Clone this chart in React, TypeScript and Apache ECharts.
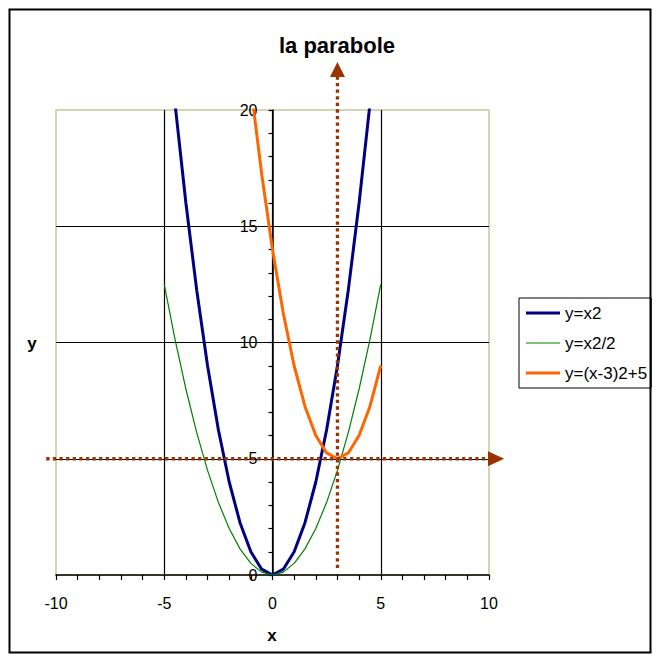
import React, { useEffect, useRef } from "react";
import * as echarts from "echarts";

// Sample points (step 0.5) for the three parabolas
const xValues = [-5, -4.5, -4, -3.5, -3, -2.5, -2, -1.5, -1, -0.5, 0, 0.5, 1, 1.5, 2, 2.5, 3, 3.5, 4, 4.5, 5];
const ySquare = [25, 20.25, 16, 12.25, 9, 6.25, 4, 2.25, 1, 0.25, 0, 0.25, 1, 2.25, 4, 6.25, 9, 12.25, 16, 20.25, 25];
const yHalf = [12.5, 10.125, 8, 6.125, 4.5, 3.125, 2, 1.125, 0.5, 0.125, 0, 0.125, 0.5, 1.125, 2, 3.125, 4.5, 6.125, 8, 10.125, 12.5];
const yShifted = [69, 61.25, 54, 47.25, 41, 35.25, 30, 25.25, 21, 17.25, 14, 11.25, 9, 7.25, 6, 5.25, 5, 5.25, 6, 7.25, 9];

const seriesNames = ["y=x2", "y=x2/2", "y=(x-3)2+5"];

// Vertex guides of the shifted parabola: vertical x = 3, horizontal y = 5
const vertex = [3, 5];
const verticalGuideSpan = [0.3, 21.42, 22.06]; // from, arrow base, arrow tip (y units)
const horizontalGuideSpan = [-10.45, 9.95, 10.7]; // from, arrow base, arrow tip (x units)

const FONT = 'Arial, "Liberation Sans", sans-serif';
const GUIDE_COLOR = "#993300";
const PLOT_BORDER = "#c8c89a";

const GRID_LEFT = 56;
const GRID_TOP = 110;
const GRID_WIDTH = 433;
const GRID_HEIGHT = 465;

const pairs = (ys: number[]) => xValues.map((x, i) => [x, ys[i]]);

// legend keys drawn as thin bars of the series' stroke thickness
const bar = (thickness: number) => `path://M0,0H34V${thickness}H0Z`;

export default function App() {
  const ref = useRef<HTMLDivElement>(null);

  useEffect(() => {
    document.body.style.margin = "0";
    const chart = echarts.init(ref.current!, null, { renderer: "svg" });

    const renderGuides = (params: any, api: any) => {
      const vFrom = api.coord([vertex[0], verticalGuideSpan[0]]);
      const vBase = api.coord([vertex[0], verticalGuideSpan[1]]);
      const vTip = api.coord([vertex[0], verticalGuideSpan[2]]);
      const hFrom = api.coord([horizontalGuideSpan[0], vertex[1]]);
      const hBase = api.coord([horizontalGuideSpan[1], vertex[1]]);
      const hTip = api.coord([horizontalGuideSpan[2], vertex[1]]);
      const half = 7.5;
      const dotted = {
        stroke: GUIDE_COLOR,
        lineWidth: 3.3,
        lineDash: [3.3, 3.3],
        lineCap: "butt",
        fill: null,
      };
      return {
        type: "group",
        children: [
          {
            type: "line",
            shape: { x1: hFrom[0], y1: hFrom[1], x2: hBase[0], y2: hBase[1] },
            style: dotted,
          },
          {
            type: "line",
            shape: { x1: vFrom[0], y1: vFrom[1], x2: vBase[0], y2: vBase[1] },
            style: dotted,
          },
          {
            type: "polygon",
            shape: {
              points: [
                [vTip[0], vTip[1]],
                [vBase[0] - half, vBase[1]],
                [vBase[0] + half, vBase[1]],
              ],
            },
            style: { fill: GUIDE_COLOR },
          },
          {
            type: "polygon",
            shape: {
              points: [
                [hTip[0], hTip[1]],
                [hBase[0], hBase[1] - half],
                [hBase[0], hBase[1] + half],
              ],
            },
            style: { fill: GUIDE_COLOR },
          },
        ],
      };
    };

    chart.setOption({
      animation: false,
      backgroundColor: "#ffffff",
      textStyle: { fontFamily: FONT },
      graphic: [
        {
          type: "rect",
          shape: { x: 9.5, y: 9.5, width: 641, height: 643 },
          style: { fill: null, stroke: "#000", lineWidth: 2 },
          z: 100,
        },
        {
          type: "text",
          x: 337,
          y: 45,
          style: {
            text: "la parabole",
            font: `bold 22px ${FONT}`,
            fill: "#000",
            textAlign: "center",
            textVerticalAlign: "middle",
          },
        },
        {
          type: "text",
          x: 32,
          y: 343,
          style: {
            text: "y",
            font: `bold 17px ${FONT}`,
            fill: "#000",
            textAlign: "center",
            textVerticalAlign: "middle",
          },
        },
        {
          type: "text",
          x: 272,
          y: 635,
          style: {
            text: "x",
            font: `bold 17px ${FONT}`,
            fill: "#000",
            textAlign: "center",
            textVerticalAlign: "middle",
          },
        },
      ],
      legend: {
        orient: "vertical",
        left: 519,
        top: 298,
        data: [
          { name: seriesNames[0], icon: bar(3) },
          { name: seriesNames[1], icon: bar(1.2) },
          { name: seriesNames[2], icon: bar(3) },
        ],
        itemWidth: 34,
        itemHeight: 14,
        itemGap: 12,
        symbolKeepAspect: true,
        padding: [6, 4, 6, 7],
        borderColor: "#000",
        borderWidth: 1,
        borderRadius: 0,
        textStyle: { fontFamily: FONT, fontSize: 17, lineHeight: 18, color: "#000" },
      },
      grid: {
        left: GRID_LEFT,
        top: GRID_TOP,
        width: GRID_WIDTH,
        height: GRID_HEIGHT,
        show: true,
        borderColor: PLOT_BORDER,
        borderWidth: 1.5,
        backgroundColor: "transparent",
      },
      xAxis: {
        type: "value",
        min: -10,
        max: 10,
        interval: 5,
        axisLine: { onZero: true, lineStyle: { color: "#000", width: 1.5 } },
        axisTick: { show: true, inside: false, length: 5, lineStyle: { color: "#000", width: 1.2 } },
        minorTick: { show: true, splitNumber: 5, length: 5, lineStyle: { color: "#000", width: 1.2 } },
        axisLabel: { fontFamily: FONT, fontSize: 16, color: "#000", margin: 20 },
        splitLine: {
          show: true,
          showMinLine: false,
          showMaxLine: false,
          lineStyle: { color: "#000", width: 1.2 },
        },
      },
      yAxis: {
        type: "value",
        min: 0,
        max: 20,
        interval: 5,
        position: "left",
        // the vertical axis crosses the middle of the plot, at x = 0
        offset: -GRID_WIDTH / 2,
        axisLine: { onZero: false, lineStyle: { color: "#000", width: 1.5 } },
        axisTick: { show: true, inside: false, length: 4, lineStyle: { color: "#000", width: 1.2 } },
        minorTick: { show: true, splitNumber: 5, length: 4, lineStyle: { color: "#000", width: 1.2 } },
        axisLabel: { fontFamily: FONT, fontSize: 16, color: "#000", margin: 15 },
        splitLine: {
          show: true,
          showMinLine: false,
          showMaxLine: false,
          lineStyle: { color: "#000", width: 1.2 },
        },
      },
      series: [
        {
          name: seriesNames[0],
          type: "line",
          data: pairs(ySquare),
          symbol: "none",
          color: "#000080",
          lineStyle: { color: "#000080", width: 3 },
          z: 3,
        },
        {
          name: seriesNames[1],
          type: "line",
          data: pairs(yHalf),
          symbol: "none",
          color: "#008000",
          lineStyle: { color: "#008000", width: 1.2 },
          z: 3,
        },
        {
          name: seriesNames[2],
          type: "line",
          data: pairs(yShifted),
          symbol: "none",
          color: "#ff6600",
          lineStyle: { color: "#ff6600", width: 3 },
          z: 3,
        },
        {
          type: "custom",
          data: [vertex],
          renderItem: renderGuides,
          clip: false,
          silent: true,
          z: 4,
        },
      ],
    });

    return () => chart.dispose();
  }, []);

  return <div ref={ref} style={{ width: 660, height: 661 }} />;
}
